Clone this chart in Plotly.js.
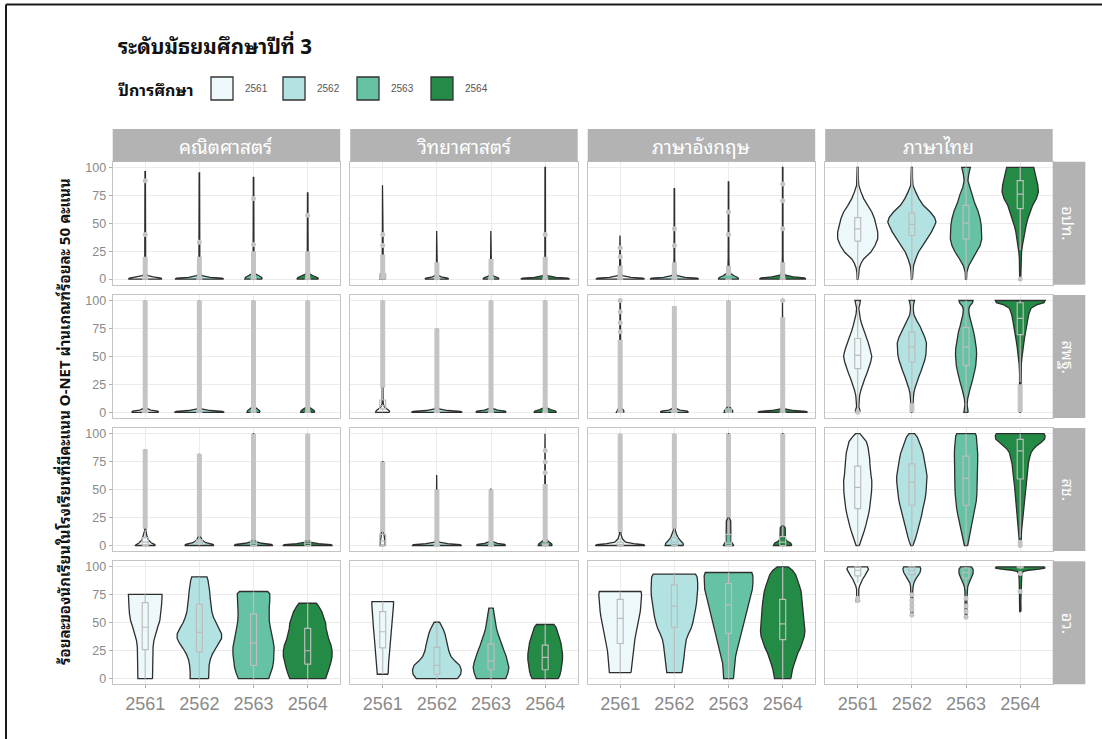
<!DOCTYPE html>
<html><head><meta charset="utf-8">
<script src="https://cdn.plot.ly/plotly-3.0.1.min.js"></script>
<style>html,body{margin:0;padding:0;background:#fff}#chart{width:1102px;height:739px}</style>
</head><body><div id="chart"></div>
<script>
// ---------------- DATA ----------------
const years = ['2561','2562','2563','2564'];
const subjects = ['คณิตศาสตร์','วิทยาศาสตร์','ภาษาอังกฤษ','ภาษาไทย'];
const affiliations = ['อปท.','สพฐ.','สช.','อว.'];
const chartTitle = 'ระดับมัธยมศึกษาปีที่ 3';
const legendTitle = 'ปีการศึกษา';
const yTitle = 'ร้อยละของนักเรียนในโรงเรียนที่มีคะแนน O-NET ผ่านเกณฑ์ร้อยละ 50 คะแนน';
const yTicks = [0,25,50,75,100];

// violin density profiles: [value, half-width] per year (2561..2564)
// row อปท.
const vio_opt_math = [
 [[0,0.31],[1,0.29],[2,0.15],[3,0.05],[5,0.015],[20,0.008],[96,0.004]],
 [[0,0.45],[0.8,0.42],[1.6,0.2],[3,0.05],[5,0.015],[20,0.008],[95,0.004]],
 [[0,0.16],[1.5,0.15],[3,0.1],[4.5,0.04],[7,0.015],[20,0.008],[91,0.004]],
 [[0,0.2],[1.5,0.18],[3,0.1],[4.5,0.04],[7,0.015],[20,0.008],[77,0.004]]];
const vio_opt_sci = [
 [[0,0.05],[3,0.04],[6,0.02],[12,0.01],[40,0.006],[84,0.004]],
 [[0,0.22],[1,0.2],[2,0.08],[3.5,0.02],[8,0.008],[43,0.004]],
 [[0,0.15],[1.2,0.13],[2.4,0.06],[4,0.02],[8,0.008],[43,0.004]],
 [[0,0.45],[0.8,0.42],[1.6,0.2],[3,0.04],[6,0.012],[20,0.006],[100,0.004]]];
const vio_opt_eng = [
 [[0,0.45],[0.8,0.42],[1.6,0.2],[3,0.04],[6,0.012],[39,0.004]],
 [[0,0.45],[0.8,0.42],[1.6,0.2],[3,0.05],[6,0.012],[20,0.006],[81,0.004]],
 [[0,0.19],[1.5,0.17],[3,0.1],[5,0.04],[8,0.012],[20,0.006],[87,0.004]],
 [[0,0.43],[1,0.4],[2,0.2],[3.5,0.05],[6,0.012],[20,0.006],[100,0.004]]];
const vio_opt_thai = [
 [[0,0.01],[6,0.015],[10,0.03],[14,0.06],[18,0.11],[24,0.24],[30,0.32],[36,0.37],[42,0.37],[48,0.34],[54,0.31],[60,0.26],[66,0.18],[72,0.11],[78,0.06],[84,0.02],[90,0.012],[100,0.01]],
 [[0,0.01],[6,0.015],[12,0.03],[18,0.07],[24,0.12],[30,0.2],[36,0.28],[42,0.36],[48,0.42],[51,0.445],[55,0.42],[60,0.34],[66,0.21],[72,0.13],[78,0.07],[84,0.02],[90,0.012],[100,0.01]],
 [[0,0.01],[6,0.015],[12,0.05],[18,0.12],[24,0.2],[30,0.26],[36,0.29],[42,0.29],[48,0.28],[54,0.26],[61,0.22],[68,0.16],[76,0.11],[82,0.06],[88,0.035],[94,0.05],[100,0.08]],
 [[0,0.01],[10,0.012],[18,0.015],[24,0.025],[30,0.04],[36,0.06],[42,0.08],[48,0.11],[54,0.14],[60,0.19],[66,0.23],[72,0.3],[78,0.335],[84,0.325],[90,0.3],[96,0.27],[100,0.25]]];
// row สพฐ.
const vio_obec_math = [
 [[0,0.25],[1,0.23],[2,0.1],[3.5,0.03],[6,0.01],[100,0.004]],
 [[0,0.46],[0.8,0.43],[1.6,0.2],[3,0.04],[6,0.01],[100,0.004]],
 [[0,0.12],[1.5,0.11],[3,0.07],[4.5,0.03],[7,0.01],[100,0.004]],
 [[0,0.13],[1.5,0.12],[3,0.08],[4.5,0.03],[7,0.01],[100,0.004]]];
const vio_obec_sci = [
 [[0,0.13],[1.5,0.12],[3,0.08],[5,0.03],[8,0.01],[100,0.004]],
 [[0,0.47],[0.8,0.44],[1.6,0.2],[3,0.04],[6,0.01],[75,0.004]],
 [[0,0.28],[1,0.26],[2,0.12],[3.5,0.03],[6,0.01],[100,0.004]],
 [[0,0.21],[1.2,0.19],[2.4,0.1],[4,0.03],[7,0.01],[100,0.004]]];
const vio_obec_eng = [
 [[0,0.07],[1.5,0.065],[3,0.04],[5,0.015],[100,0.004]],
 [[0,0.26],[1,0.24],[2,0.1],[3.5,0.03],[6,0.01],[95,0.004]],
 [[0,0.08],[1.5,0.075],[3,0.05],[5,0.02],[8,0.008],[100,0.004]],
 [[0,0.46],[0.8,0.43],[1.6,0.2],[3,0.04],[6,0.01],[100,0.004]]];
const vio_obec_thai = [
 [[0,0.04],[2,0.04],[5,0.02],[10,0.025],[15,0.035],[20,0.06],[25,0.09],[30,0.13],[35,0.17],[40,0.21],[45,0.24],[50,0.26],[53,0.25],[58,0.22],[63,0.19],[68,0.15],[73,0.11],[78,0.08],[83,0.05],[88,0.03],[93,0.02],[97,0.04],[100,0.05]],
 [[0,0.01],[6,0.015],[12,0.02],[17,0.035],[22,0.06],[27,0.09],[32,0.13],[37,0.17],[42,0.21],[47,0.24],[52,0.26],[57,0.27],[62,0.27],[67,0.24],[72,0.2],[77,0.15],[82,0.09],[87,0.04],[92,0.025],[96,0.03],[100,0.05]],
 [[0,0.04],[3,0.03],[7,0.02],[12,0.03],[17,0.05],[22,0.08],[27,0.11],[32,0.14],[37,0.16],[42,0.18],[47,0.19],[52,0.195],[57,0.19],[62,0.18],[67,0.16],[72,0.14],[77,0.11],[82,0.08],[87,0.06],[92,0.05],[95,0.07],[98,0.12],[100,0.13]],
 [[0,0.01],[25,0.01],[35,0.012],[43,0.02],[48,0.03],[53,0.04],[58,0.055],[63,0.07],[68,0.085],[73,0.1],[78,0.12],[83,0.14],[88,0.16],[93,0.2],[96,0.3],[98,0.44],[100,0.46]]];
// row สช.
const vio_opec_math = [
 [[0,0.19],[1,0.17],[2.5,0.11],[5,0.06],[9,0.03],[13,0.012],[30,0.006],[86,0.004]],
 [[0,0.27],[1,0.25],[2.5,0.12],[5,0.05],[8,0.02],[11,0.01],[30,0.006],[82,0.004]],
 [[0,0.36],[1,0.33],[2,0.15],[3.5,0.04],[6,0.012],[30,0.006],[100,0.004]],
 [[0,0.46],[0.8,0.43],[1.6,0.2],[3,0.04],[6,0.01],[100,0.004]]];
const vio_opec_sci = [
 [[0,0.05],[3,0.045],[8,0.03],[12,0.015],[30,0.006],[75,0.004]],
 [[0,0.46],[0.8,0.43],[1.6,0.2],[3,0.04],[6,0.01],[63,0.004]],
 [[0,0.27],[1,0.25],[2,0.12],[3.5,0.03],[6,0.01],[51,0.004]],
 [[0,0.13],[1.5,0.12],[3,0.08],[5,0.03],[8,0.01],[100,0.004]]];
const vio_opec_eng = [
 [[0,0.46],[0.8,0.43],[1.6,0.25],[3,0.1],[6,0.04],[10,0.015],[30,0.006],[100,0.004]],
 [[0,0.17],[2,0.16],[4,0.12],[7,0.07],[10,0.04],[14,0.015],[30,0.006],[100,0.004]],
 [[0,0.1],[2,0.07],[4,0.045],[22,0.04],[25,0.012],[100,0.004]],
 [[0,0.17],[2,0.15],[4,0.08],[6,0.05],[16,0.045],[18,0.012],[100,0.004]]];
const vio_opec_thai = [
 [[0,0.03],[4,0.06],[8,0.09],[13,0.12],[18,0.15],[23,0.18],[28,0.2],[33,0.22],[38,0.235],[43,0.245],[48,0.255],[53,0.26],[58,0.26],[63,0.245],[68,0.23],[73,0.225],[78,0.22],[83,0.21],[88,0.19],[93,0.16],[97,0.1],[100,0.04]],
 [[0,0.02],[3,0.045],[7,0.07],[12,0.1],[17,0.13],[22,0.155],[27,0.18],[32,0.2],[37,0.225],[42,0.245],[47,0.26],[52,0.27],[57,0.28],[62,0.28],[67,0.265],[72,0.25],[77,0.23],[82,0.21],[87,0.18],[92,0.14],[97,0.1],[100,0.05]],
 [[0,0.03],[5,0.05],[10,0.07],[16,0.1],[22,0.13],[28,0.155],[34,0.175],[40,0.19],[46,0.2],[52,0.205],[58,0.21],[64,0.21],[70,0.215],[76,0.215],[82,0.215],[88,0.21],[94,0.2],[98,0.19],[100,0.17]],
 [[0,0.015],[3,0.015],[8,0.02],[13,0.025],[18,0.035],[23,0.045],[28,0.055],[33,0.065],[38,0.075],[43,0.085],[48,0.095],[53,0.105],[58,0.115],[63,0.125],[68,0.14],[73,0.15],[78,0.17],[83,0.2],[86,0.24],[89,0.3],[92,0.38],[95,0.45],[98,0.46],[100,0.44]]];
// row อว.
const vio_hed_math = [
 [[0,0.135],[10,0.135],[20,0.14],[28,0.145],[34,0.16],[40,0.19],[46,0.23],[52,0.27],[58,0.29],[65,0.3],[72,0.31],[75.5,0.31]],
 [[0,0.17],[6,0.17],[12,0.18],[17,0.2],[22,0.24],[27,0.3],[32,0.37],[36,0.41],[40,0.41],[45,0.36],[50,0.3],[55,0.26],[60,0.23],[66,0.21],[72,0.2],[78,0.19],[83,0.18],[88,0.16],[91,0.14]],
 [[0,0.28],[5,0.32],[10,0.35],[16,0.37],[22,0.38],[28,0.38],[34,0.36],[40,0.33],[46,0.31],[52,0.29],[58,0.285],[64,0.29],[70,0.3],[76,0.3],[78,0.26]],
 [[0,0.33],[5,0.37],[10,0.4],[15,0.43],[20,0.45],[25,0.45],[30,0.43],[35,0.39],[40,0.36],[45,0.34],[50,0.33],[55,0.3],[60,0.26],[65,0.2],[67.5,0.16]]];
const vio_hed_sci = [
 [[4,0.1],[10,0.1],[15,0.11],[20,0.12],[25,0.13],[30,0.14],[35,0.15],[40,0.16],[45,0.17],[50,0.18],[55,0.19],[60,0.195],[66,0.2],[69,0.2]],
 [[0,0.38],[4,0.44],[8,0.45],[12,0.42],[16,0.33],[20,0.26],[25,0.22],[30,0.2],[35,0.18],[40,0.15],[44,0.12],[48,0.08],[50.5,0.05]],
 [[0,0.27],[5,0.31],[10,0.33],[15,0.31],[20,0.28],[25,0.24],[30,0.2],[35,0.16],[40,0.13],[45,0.1],[50,0.08],[55,0.06],[60,0.05],[63,0.04]],
 [[0,0.24],[3,0.27],[7,0.29],[12,0.31],[17,0.32],[22,0.32],[27,0.31],[32,0.29],[37,0.26],[42,0.23],[46,0.2],[48.5,0.16]]];
const vio_hed_eng = [
 [[5.5,0.2],[10,0.21],[15,0.215],[20,0.225],[25,0.235],[30,0.25],[35,0.27],[40,0.29],[45,0.31],[50,0.335],[55,0.355],[60,0.37],[65,0.38],[70,0.39],[75,0.395],[78,0.385]],
 [[5.5,0.14],[10,0.155],[15,0.17],[20,0.18],[25,0.19],[30,0.2],[35,0.22],[40,0.26],[45,0.31],[50,0.34],[56,0.37],[62,0.39],[68,0.41],[74,0.425],[80,0.43],[86,0.43],[91,0.42],[93.5,0.39]],
 [[0,0.09],[3,0.095],[8,0.1],[14,0.11],[20,0.13],[26,0.16],[32,0.19],[38,0.22],[44,0.25],[50,0.28],[56,0.32],[62,0.35],[68,0.38],[74,0.41],[80,0.44],[86,0.45],[92,0.45],[95,0.43]],
 [[0,0.15],[3,0.16],[8,0.18],[13,0.21],[18,0.24],[23,0.28],[28,0.33],[33,0.37],[38,0.4],[43,0.41],[48,0.4],[53,0.39],[58,0.39],[63,0.38],[68,0.37],[73,0.36],[78,0.34],[83,0.31],[88,0.28],[93,0.24],[97,0.18],[100,0.1]]];
const vio_hed_thai = [
 [[69,0.03],[70,0.035],[72,0.02],[76,0.015],[80,0.02],[83,0.035],[86,0.06],[89,0.09],[92,0.13],[95,0.17],[98,0.2],[100,0.18]],
 [[56,0.015],[58,0.02],[62,0.015],[70,0.012],[78,0.015],[83,0.025],[86,0.04],[89,0.07],[92,0.11],[95,0.15],[98,0.165],[100,0.15]],
 [[54,0.015],[57,0.02],[62,0.015],[70,0.015],[78,0.02],[82,0.03],[85,0.05],[88,0.08],[91,0.11],[94,0.13],[98,0.13],[100,0.1]],
 [[60,0.01],[62,0.015],[70,0.012],[80,0.015],[90,0.02],[94,0.03],[96,0.06],[97,0.15],[98,0.35],[99,0.46],[100,0.44]]];

// box stats per year: [q1, median, q3, lower whisker, upper whisker]
const box_opt_math = [[0,0,0,0,0],[0,0,0,0,0],[0,0,0,0,0],[0,0,0,0,0]];
const box_opt_sci  = [[0,2,5,0,12],[0,0,0,0,0],[0,0,0,0,0],[0,0,0,0,0]];
const box_opt_eng  = [[0,0,0,0,0],[0,0,0,0,0],[0,0,0,0,0],[0,0,0,0,0]];
const box_opt_thai = [[34,45,55,0,100],[39,49,59,0,100],[36,50,66,0,100],[63,76,88,26,100]];
const box_obec_math = [[0,0,0,0,0],[0,0,0,0,0],[0,0,0,0,0],[0,0,0,0,0]];
const box_obec_sci  = [[3,6,11,0,22],[0,0,0,0,0],[0,0,0,0,0],[0,0,0,0,0]];
const box_obec_eng  = [[0,0,0,0,0],[0,0,0,0,0],[0,1,3,0,5],[0,0,0,0,0]];
const box_obec_thai = [[39,51,66,2,100],[45,58.6,72,8,100],[42,58.6,76,0,100],[69.5,84,98,27,100]];
const box_opec_math = [[0,3,7,0,14],[1,3,5,0,8],[0,2,4,0,5],[0,2,4,0,5]];
const box_opec_sci  = [[0,4,10,0,12],[0,0,0,0,0],[0,0,0,0,0],[0,1,2,0,3]];
const box_opec_eng  = [[0,1,3,0,7],[0,3,7,0,15],[0,2,10,0,24],[0,3,8,0,17]];
const box_opec_thai = [[33,52,71,0,100],[36,56.5,73,0,100],[36,60,80,0,100],[59.5,84.6,95,7,100]];
const box_hed_math = [[26,46,68,0,75.5],[24,41.5,66.6,0,91],[12,32,58,0,78],[13,25,45,0,67.5]];
const box_hed_sci  = [[27.5,42,60,4,69],[4,12,28,0,50.5],[8,16,31,0,63],[8,19,30,0,48.5]];
const box_hed_eng  = [[31.5,54,71,5.5,78],[46,65,84,5.5,93.5],[40.5,66,85,0,95],[35,49,71,0,100]];
const box_hed_thai = [[92,97,100,86,100],[93,97,100,86,100],[90,95,99,80,100],[99,100,100,98,100]];

// dense runs of outlier points [from, to] (null = none)
const dense_opt_math = [[0,20],[0,20],[0,25],[0,25]];
const dense_opt_sci  = [[0,22],[0,15],[0,18],[0,20]];
const dense_opt_eng  = [[0,12],[0,15],[3,12],[0,15]];
const dense_opt_thai = [null,null,null,null];
const dense_obec_math = [[0,100],[0,100],[0,100],[0,100]];
const dense_obec_sci  = [[22,100],[0,75],[0,100],[0,100]];
const dense_obec_eng  = [[0,65],[0,95],[5,100],[0,85]];
const dense_obec_thai = [null,[0,8],null,[0,25]];
const dense_opec_math = [[15,86],[8,82],[5,100],[5,100]];
const dense_opec_sci  = [[12,75],[0,50],[0,50],[3,55]];
const dense_opec_eng  = [[12,100],[15,100],[25,100],[18,100]];
const dense_opec_thai = [null,null,null,null];
const dense_hed = [null,null,null,null];

// single outlier points
const pts_opt_math = [[40,88],[33],[31,72],[57]];
const pts_opt_sci  = [[30,40],[],[],[40]];
const pts_opt_eng  = [[20,28],[30,45],[40,60],[45,70,85]];
const pts_opt_thai = [[],[],[],[0]];
const pts_obec_eng = [[72,80,90,100],[],[],[100]];
const pts_obec_thai = [[0],[],[],[]];
const pts_opec_sci = [[],[],[],[65,75,85]];
const pts_opec_thai = [[],[],[],[0,3]];
const pts_hed_thai = [[70,72],[57,62,66,70,75],[55,60,65,72],[78,94]];
const pts_none = [[],[],[],[]];

// ---------------- STYLE / LAYOUT ----------------
const yearFill = ['#EDF8FB','#B2E2E2','#66C2A4','#238B45'];
const W = 1102, H = 739;
const colPx = [[112.7,340.2],[350.2,577.7],[587.7,815.2],[825.2,1052.7]];
const rowPx = [[161.7,284.7],[294.9,417.9],[428.1,551.1],[561.3,684.3]];
const thaiFont = "'Noto Sans Thai Looped','Noto Serif Thai','Sarabun','Loma','Garuda','Noto Sans Thai','Noto Sans',sans-serif";
const tickFont = "'Liberation Sans',Arial,sans-serif";
const boxGray = '#bdbdbd', outGray = '#c4c4c4', boxHalf = 0.055;

const panels = [
 [[vio_opt_math,box_opt_math,dense_opt_math,pts_opt_math],[vio_opt_sci,box_opt_sci,dense_opt_sci,pts_opt_sci],[vio_opt_eng,box_opt_eng,dense_opt_eng,pts_opt_eng],[vio_opt_thai,box_opt_thai,dense_opt_thai,pts_opt_thai]],
 [[vio_obec_math,box_obec_math,dense_obec_math,pts_none],[vio_obec_sci,box_obec_sci,dense_obec_sci,pts_none],[vio_obec_eng,box_obec_eng,dense_obec_eng,pts_obec_eng],[vio_obec_thai,box_obec_thai,dense_obec_thai,pts_obec_thai]],
 [[vio_opec_math,box_opec_math,dense_opec_math,pts_none],[vio_opec_sci,box_opec_sci,dense_opec_sci,pts_opec_sci],[vio_opec_eng,box_opec_eng,dense_opec_eng,pts_none],[vio_opec_thai,box_opec_thai,dense_opec_thai,pts_opec_thai]],
 [[vio_hed_math,box_hed_math,dense_hed,pts_none],[vio_hed_sci,box_hed_sci,dense_hed,pts_none],[vio_hed_eng,box_hed_eng,dense_hed,pts_none],[vio_hed_thai,box_hed_thai,dense_hed,pts_hed_thai]]
];

const traces = [];
const layout = {
  width: W, height: H, margin:{l:0,r:0,t:0,b:0},
  paper_bgcolor:'#fff', plot_bgcolor:'#fff', showlegend:false,
  shapes: [], annotations: []
};
const px2x = p => p / W;
const py2y = p => 1 - p / H;

for (let r = 0; r < 4; r++) {
  for (let c = 0; c < 4; c++) {
    const k = r * 4 + c + 1;
    const xa = k === 1 ? 'x' : 'x' + k;
    const ya = k === 1 ? 'y' : 'y' + k;
    const [vio, box, dense, pts] = panels[r][c];
    // violins
    vio.forEach((prof, j) => {
      const cx = j + 1, xs = [], ys = [];
      prof.forEach(([v, w]) => { xs.push(cx + w); ys.push(v); });
      for (let i = prof.length - 1; i >= 0; i--) { xs.push(cx - prof[i][1]); ys.push(prof[i][0]); }
      xs.push(xs[0]); ys.push(ys[0]);
      traces.push({type:'scatter', mode:'lines', x:xs, y:ys, xaxis:xa, yaxis:ya,
        fill:'toself', fillcolor:yearFill[j], line:{color:'#2e2e2e', width:1.3},
        hoverinfo:'skip', showlegend:false});
    });
    // boxplots (box outline, median, whiskers)
    const bx = [], by = [];
    box.forEach(([q1, md, q3, lo, hi], j) => {
      const cx = j + 1;
      bx.push(cx-boxHalf, cx+boxHalf, cx+boxHalf, cx-boxHalf, cx-boxHalf, null); by.push(q1, q1, q3, q3, q1, null);
      bx.push(cx-boxHalf, cx+boxHalf, null); by.push(md, md, null);
      bx.push(cx, cx, null); by.push(lo, q1, null);
      bx.push(cx, cx, null); by.push(q3, hi, null);
    });
    traces.push({type:'scatter', mode:'lines', x:bx, y:by, xaxis:xa, yaxis:ya,
      line:{color:boxGray, width:1.2}, hoverinfo:'skip', showlegend:false});
    // dense outlier runs
    const dx = [], dy = [];
    dense.forEach((d, j) => { if (d) { dx.push(j+1, j+1, null); dy.push(d[0], d[1], null); } });
    if (dx.length) traces.push({type:'scatter', mode:'lines', x:dx, y:dy, xaxis:xa, yaxis:ya,
      line:{color:outGray, width:5}, hoverinfo:'skip', showlegend:false});
    const ox = [], oy = [];
    pts.forEach((arr, j) => arr.forEach(v => { ox.push(j+1); oy.push(v); }));
    if (ox.length) traces.push({type:'scatter', mode:'markers', x:ox, y:oy, xaxis:xa, yaxis:ya,
      marker:{color:outGray, size:5}, hoverinfo:'skip', showlegend:false});

    const xKey = k === 1 ? 'xaxis' : 'xaxis' + k;
    const yKey = k === 1 ? 'yaxis' : 'yaxis' + k;
    layout[xKey] = {
      domain:[px2x(colPx[c][0]), px2x(colPx[c][1])], anchor:ya,
      range:[0.4,4.6], tickvals:[1,2,3,4], ticktext:years,
      showticklabels: r === 3, ticks: r === 3 ? 'outside' : '', ticklen:3, tickcolor:'#b0b0b0',
      tickfont:{family:tickFont, size:18, color:'#8a8a8a'},
      showgrid:true, gridcolor:'#ebebeb', gridwidth:1, zeroline:false,
      showline:true, mirror:true, linecolor:'#c4c4c4', linewidth:1, fixedrange:true
    };
    layout[yKey] = {
      domain:[py2y(rowPx[r][1]), py2y(rowPx[r][0])], anchor:xa,
      range:[-5,105], tickvals:yTicks, ticktext:yTicks.map(String),
      showticklabels: c === 0, ticks: c === 0 ? 'outside' : '', ticklen:3, tickcolor:'#b0b0b0',
      tickfont:{family:tickFont, size:12.5, color:'#8a8a8a'},
      showgrid:true, gridcolor:'#ebebeb', gridwidth:1, zeroline:false,
      showline:true, mirror:true, linecolor:'#c4c4c4', linewidth:1, fixedrange:true
    };
  }
}

// strips (top)
subjects.forEach((s, c) => {
  layout.shapes.push({type:'rect', xref:'paper', yref:'paper', x0:px2x(colPx[c][0]), x1:px2x(colPx[c][1]),
    y0:py2y(161.7), y1:py2y(129), fillcolor:'#b3b3b3', line:{width:0}});
  layout.annotations.push({xref:'paper', yref:'paper', x:px2x((colPx[c][0]+colPx[c][1])/2), y:py2y(145.5),
    text:s, showarrow:false, xanchor:'center', yanchor:'middle',
    font:{family:thaiFont, size:19, color:'#ffffff'}});
});
// strips (right)
affiliations.forEach((s, r) => {
  layout.shapes.push({type:'rect', xref:'paper', yref:'paper', x0:px2x(1052.7), x1:px2x(1085.3),
    y0:py2y(rowPx[r][1]), y1:py2y(rowPx[r][0]), fillcolor:'#b3b3b3', line:{width:0}});
  layout.annotations.push({xref:'paper', yref:'paper', x:px2x(1069), y:py2y((rowPx[r][0]+rowPx[r][1])/2),
    text:s, textangle:90, showarrow:false, xanchor:'center', yanchor:'middle',
    font:{family:thaiFont, size:16, color:'#ffffff'}});
});
// title
layout.annotations.push({xref:'paper', yref:'paper', x:px2x(116), y:py2y(45), text:'<b>'+chartTitle+'</b>',
  showarrow:false, xanchor:'left', yanchor:'middle', font:{family:thaiFont, size:20.5, color:'#111'}});
// legend
layout.annotations.push({xref:'paper', yref:'paper', x:px2x(116), y:py2y(89), text:'<b>'+legendTitle+'</b>',
  showarrow:false, xanchor:'left', yanchor:'middle', font:{family:thaiFont, size:16, color:'#111'}});
const legBoxX = [211, 283, 357, 431];
years.forEach((yv, j) => {
  layout.shapes.push({type:'rect', xref:'paper', yref:'paper', x0:px2x(legBoxX[j]), x1:px2x(legBoxX[j]+22),
    y0:py2y(100), y1:py2y(77), fillcolor:yearFill[j], line:{color:'#333', width:1.3}});
  layout.annotations.push({xref:'paper', yref:'paper', x:px2x(legBoxX[j]+32), y:py2y(89), text:yv,
    showarrow:false, xanchor:'left', yanchor:'middle', font:{family:tickFont, size:10, color:'#555'}});
});
// y-axis title
layout.annotations.push({xref:'paper', yref:'paper', x:px2x(63), y:py2y(422), text:'<b>'+yTitle+'</b>',
  textangle:-90, showarrow:false, xanchor:'center', yanchor:'middle', font:{family:thaiFont, size:15, color:'#111'}});
// outer frame (top and left edges)
layout.shapes.push({type:'line', xref:'paper', yref:'paper', x0:px2x(6), x1:1, y0:py2y(4.5), y1:py2y(4.5), line:{color:'#1a1a1a', width:2}});
layout.shapes.push({type:'line', xref:'paper', yref:'paper', x0:px2x(6), x1:px2x(6), y0:0, y1:py2y(4.5), line:{color:'#1a1a1a', width:2}});

Plotly.newPlot('chart', traces, layout, {staticPlot:true, displayModeBar:false});
</script>
</body></html>
